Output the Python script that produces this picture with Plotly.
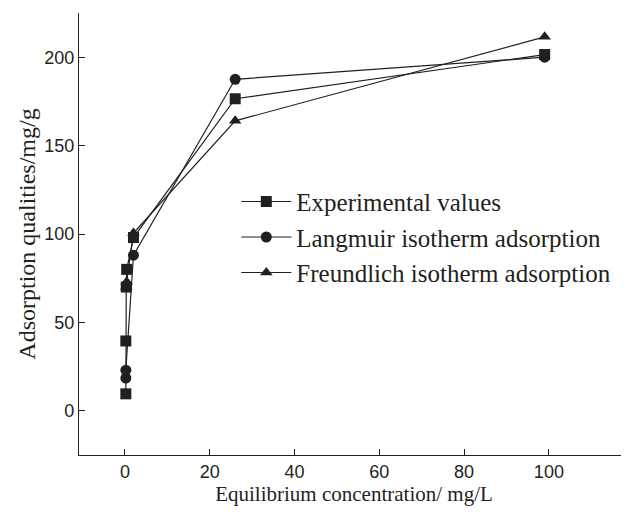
import plotly.graph_objects as go

# values
exp_x = [0.2, 0.2, 0.3, 0.4, 2.0, 26.0, 99.0]
exp_y = [9.6, 39.5, 70.0, 80.0, 98.0, 176.5, 201.5]

lang_x = [0.2, 0.2, 2.0, 26.0, 99.0]
lang_y = [18.5, 23.0, 88.0, 187.5, 200.0]

freund_x = [0.3, 0.4, 2.0, 26.0, 99.0]
freund_y = [70.0, 73.0, 100.5, 164.0, 211.5]

names = ["Experimental values", "Langmuir isotherm adsorption", "Freundlich isotherm adsorption"]
symbols = ["square", "circle", "triangle-up"]

ink = "#231f20"
serif = "Liberation Serif, Times New Roman, serif"
sans = "Liberation Sans, Arial, sans-serif"

fig = go.Figure()
for xs, ys, name, sym in zip([exp_x, lang_x, freund_x], [exp_y, lang_y, freund_y], names, symbols):
    fig.add_trace(go.Scatter(
        x=xs, y=ys, name=name, mode="lines+markers",
        line=dict(color=ink, width=1.2),
        marker=dict(symbol=sym, size=11, color=ink),
    ))

# page body has an 8px margin, so the figure is a bit smaller than the window
fig.update_layout(
    width=621, height=512,
    paper_bgcolor="white", plot_bgcolor="white",
    margin=dict(l=71, r=0, t=5, b=65),
    showlegend=True,
    legend=dict(
        x=0.286, y=0.625, xanchor="left", yanchor="top",
        font=dict(family=serif, size=25, color=ink),
        bgcolor="rgba(0,0,0,0)", tracegroupgap=0, itemwidth=50,
    ),
    font=dict(family=sans, color=ink),
)

fig.update_xaxes(
    range=[-10.85, 118.9], tickvals=[0, 20, 40, 60, 80, 100], automargin=False,
    showgrid=False, zeroline=False, showline=True, linecolor=ink, linewidth=1.3,
    ticks="inside", ticklen=6, tickcolor=ink, tickwidth=1.3,
    tickfont=dict(family=sans, size=18, color=ink),
    title=dict(text="Equilibrium concentration/ mg/L", font=dict(family=serif, size=21, color=ink), standoff=0),
)
fig.update_yaxes(
    range=[-25, 225], tickvals=[0, 50, 100, 150, 200], automargin=False,
    showgrid=False, zeroline=False, showline=True, linecolor=ink, linewidth=1.3,
    ticks="inside", ticklen=6, tickcolor=ink, tickwidth=1.3,
    tickfont=dict(family=sans, size=18, color=ink),
    title=dict(text="Adsorption qualities/mg/g", font=dict(family=serif, size=24, color=ink), standoff=1),
)

fig.write_html("out.html")
